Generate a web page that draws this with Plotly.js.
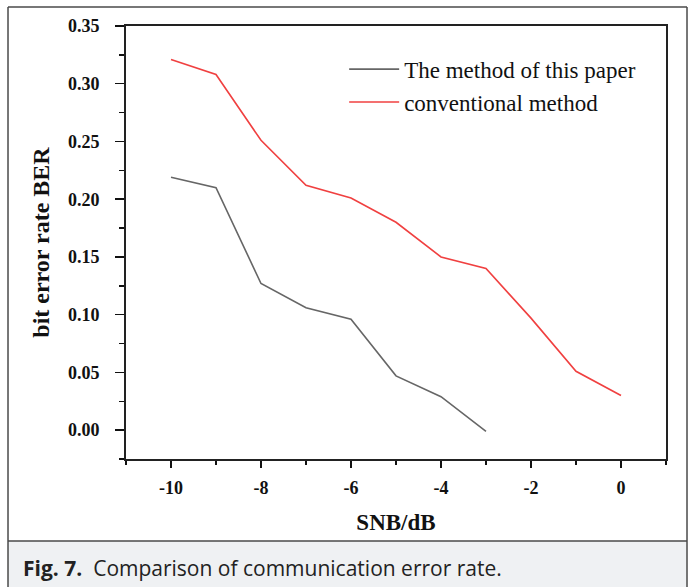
<!DOCTYPE html>
<html>
<head>
<meta charset="utf-8">
<script src="https://cdn.plot.ly/plotly-3.0.1.min.js"></script>
<style>html,body{margin:0;padding:0;background:#fff;}#chart{width:690px;height:587px;}</style>
</head>
<body>
<div id="chart"></div>
<script>
const snr = [-10, -9, -8, -7, -6, -5, -4, -3, -2, -1, 0];
const snrProposed = [-10, -9, -8, -7, -6, -5, -4, -3];
const berProposed = [0.219, 0.210, 0.127, 0.106, 0.096, 0.047, 0.029, -0.001];
const berConventional = [0.321, 0.308, 0.251, 0.212, 0.201, 0.180, 0.150, 0.140, 0.097, 0.051, 0.030];
const seriesNames = ["The method of this paper", "conventional method"];
const xTickVals = [-10, -8, -6, -4, -2, 0];
const yTickVals = [0.00, 0.05, 0.10, 0.15, 0.20, 0.25, 0.30, 0.35];
const xTitle = "SNB/dB";
const yTitle = "bit error rate BER";
const captionBold = "Fig. 7.";
const captionText = "Comparison of communication error rate.";

const serif = "Liberation Serif, Times New Roman, serif";
const traces = [
  {x: snrProposed, y: berProposed, name: seriesNames[0], type: "scatter", mode: "lines",
   line: {color: "#666666", width: 1.6}},
  {x: snr, y: berConventional, name: seriesNames[1], type: "scatter", mode: "lines",
   line: {color: "#f04040", width: 1.6}}
];
// paper coordinates of the figure frame (plot area: 126..666 px, 26..459 px)
const fL = -0.2185, fR = 1.0389, fT = 1.0439, fB = -0.32, fSep = -0.1894;
const layout = {
  width: 690, height: 587,
  margin: {l: 126, r: 24, t: 26, b: 128},
  paper_bgcolor: "#ffffff", plot_bgcolor: "#ffffff",
  showlegend: true,
  legend: {x: 0.404, y: 0.95, xanchor: "left", yanchor: "top", bgcolor: "rgba(0,0,0,0)",
    font: {family: serif, size: 23, color: "#111"}, itemwidth: 50},
  xaxis: {
    range: [-11, 1], tickvals: xTickVals, ticktext: xTickVals.map(v => "<b>" + v + "</b>"),
    ticks: "outside", ticklen: 7, tickwidth: 1.5, tickcolor: "#111", ticklabelstandoff: 5,
    minor: {dtick: 1, tick0: -11, ticks: "outside", ticklen: 4, tickwidth: 1.5, tickcolor: "#111", showgrid: false},
    showline: true, linecolor: "#222", linewidth: 1.8, mirror: true,
    showgrid: false, zeroline: false,
    tickfont: {family: serif, size: 18, color: "#111"},
    title: {text: "<b>" + xTitle + "</b>", font: {family: serif, size: 23, color: "#111"}, standoff: 16}
  },
  yaxis: {
    range: [-0.025, 0.35], tickvals: yTickVals, ticktext: yTickVals.map(v => "<b>" + v.toFixed(2) + "</b>"),
    ticks: "outside", ticklen: 9, tickwidth: 1.5, tickcolor: "#111", ticklabelstandoff: 12,
    minor: {dtick: 0.025, tick0: 0, ticks: "outside", ticklen: 5, tickwidth: 1.5, tickcolor: "#111", showgrid: false},
    showline: true, linecolor: "#222", linewidth: 1.8, mirror: true,
    showgrid: false, zeroline: false,
    tickfont: {family: serif, size: 18, color: "#111"},
    title: {text: "<b>" + yTitle + "</b>", font: {family: serif, size: 24, color: "#111"}, standoff: 12}
  },
  shapes: [
    {type: "rect", xref: "paper", yref: "paper", layer: "below",
     x0: fL, x1: fR, y0: fSep, y1: fB, fillcolor: "#eff1f3", line: {width: 0}},
    {type: "line", xref: "paper", yref: "paper", x0: fL, x1: fR, y0: fSep, y1: fSep,
     line: {color: "#4a4a4a", width: 1.5}},
    {type: "line", xref: "paper", yref: "paper", x0: fL, x1: fL, y0: fB, y1: fT,
     line: {color: "#4a4a4a", width: 1.5}},
    {type: "line", xref: "paper", yref: "paper", x0: fR, x1: fR, y0: fB, y1: fT,
     line: {color: "#4a4a4a", width: 1.5}},
    {type: "line", xref: "paper", yref: "paper", x0: fL, x1: fR, y0: fT, y1: fT,
     line: {color: "#4a4a4a", width: 1.5}}
  ],
  annotations: [
    {xref: "paper", yref: "paper", x: -0.194, y: -0.2517, xanchor: "left", yanchor: "middle",
     showarrow: false, align: "left",
     text: "<b>" + captionBold + "</b>  " + captionText,
     font: {family: "Open Sans, Noto Sans, sans-serif", size: 21, color: "#222"}}
  ]
};
Plotly.newPlot("chart", traces, layout, {displayModeBar: false, staticPlot: true});
</script>
</body>
</html>
